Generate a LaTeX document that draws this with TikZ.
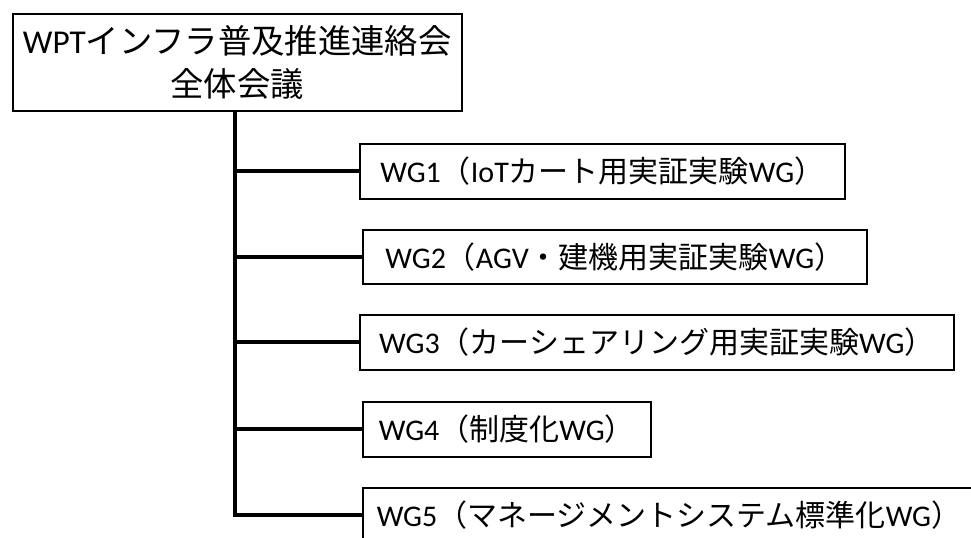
\documentclass[tikz,border=0pt]{standalone}
\usepackage{fontspec}
\setmainfont{Carlito}
\newfontfamily\jp{Noto Sans CJK JP}
\begin{document}
\begin{tikzpicture}[x=0.75pt,y=-0.75pt,
  box/.style={draw=black,line width=1.2pt,fill=white,inner sep=0pt,anchor=north west,align=center},
  wg/.style={box,font=\fontsize{22.5}{26}\selectfont},
  conn/.style={draw=black,line width=3pt}]
\useasboundingbox[fill=white] (0,0) rectangle (971,537);
\clip (0,0) rectangle (971,537);
\node[box,minimum width=449*0.75pt,minimum height=97*0.75pt,font=\fontsize{25}{32}\selectfont] (top) at (12,13)
  {WPT{\jp インフラ普及推進連絡会}\\{\jp 全体会議}};
\node[wg,minimum width=485*0.75pt,minimum height=55*0.75pt] (w1) at (359,143)
  {WG1{\jp （}IoT{\jp カート用実証実験}WG{\jp ）}};
\node[wg,minimum width=504*0.75pt,minimum height=54*0.75pt] (w2) at (362,229)
  {WG2{\jp （}AGV{\jp ・建機用実証実験}WG{\jp ）}};
\node[wg,minimum width=594*0.75pt,minimum height=55*0.75pt] (w3) at (359,314)
  {WG3{\jp （カーシェアリング用実証実験}WG{\jp ）}};
\node[wg,minimum width=288*0.75pt,minimum height=55*0.75pt] (w4) at (362,401)
  {WG4{\jp （制度化}WG{\jp ）}};
\node[wg,minimum width=640*0.75pt,minimum height=54*0.75pt,text width=620*0.75pt,align=left] (w5) at (362,487)
  {\hspace*{3pt}WG5{\jp （マネージメントシステム標準化}WG{\jp ）}};
\coordinate (t) at (235,0);
\draw[conn] (top.south -| t) |- (w5.west);
\draw[conn] (w1.west -| t) -- (w1.west);
\draw[conn] (w2.west -| t) -- (w2.west);
\draw[conn] (w3.west -| t) -- (w3.west);
\draw[conn] (w4.west -| t) -- (w4.west);
\end{tikzpicture}
\end{document}
